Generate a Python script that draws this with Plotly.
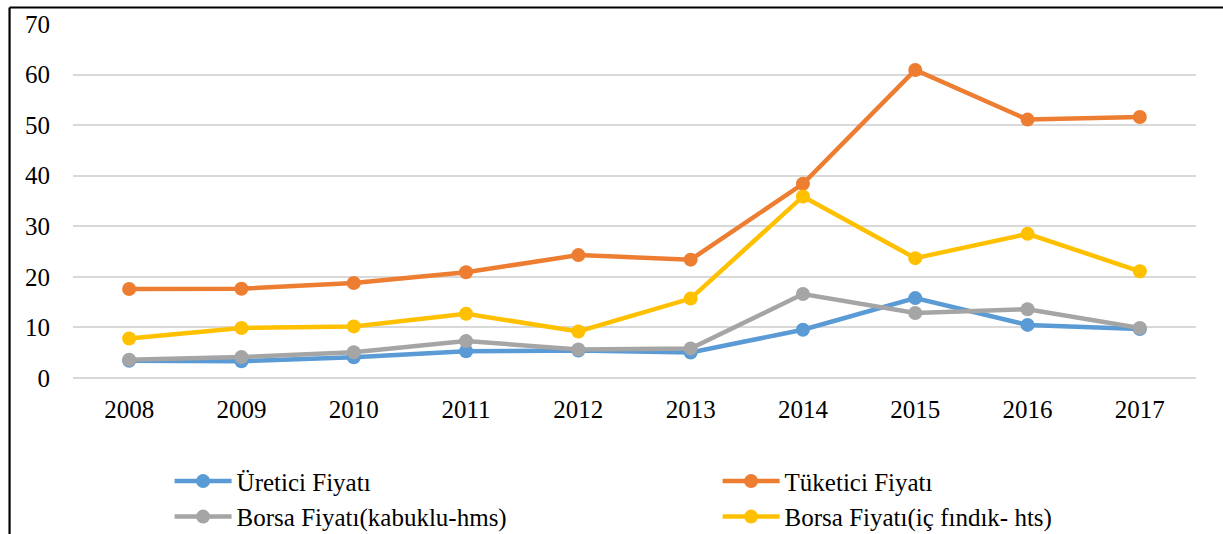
import plotly.graph_objects as go

years = ["2008", "2009", "2010", "2011", "2012", "2013", "2014", "2015", "2016", "2017"]
uretici = [3.4, 3.3, 4.1, 5.3, 5.45, 5.05, 9.55, 15.8, 10.5, 9.7]
tuketici = [17.6, 17.65, 18.8, 20.9, 24.3, 23.4, 38.4, 60.9, 51.1, 51.6]
borsa_kabuklu = [3.6, 4.15, 5.1, 7.3, 5.65, 5.85, 16.6, 12.85, 13.6, 9.9]
borsa_ic = [7.8, 9.9, 10.2, 12.7, 9.2, 15.7, 35.9, 23.7, 28.5, 21.1]

names = ["Üretici Fiyatı", "Tüketici Fiyatı", "Borsa Fiyatı(kabuklu-hms)", "Borsa Fiyatı(iç fındık- hts)"]
colors = ["#5B9BD5", "#ED7D31", "#A5A5A5", "#FFC000"]
series = [uretici, tuketici, borsa_kabuklu, borsa_ic]
legends = ["legend", "legend2", "legend", "legend2"]

font = "Liberation Serif, Times New Roman, serif"

fig = go.Figure()
for name, col, vals, lg in zip(names, colors, series, legends):
    fig.add_trace(go.Scatter(
        x=years, y=vals, name=name, mode="lines+markers",
        line=dict(color=col, width=4.5),
        marker=dict(color=col, size=14),
        legend=lg,
    ))

leg_common = dict(
    orientation="v", yanchor="top", xanchor="left",
    font=dict(family=font, size=25, color="black"),
    tracegroupgap=0, traceorder="normal", bgcolor="rgba(0,0,0,0)",
    itemwidth=57,
)

fig.update_layout(
    width=1223, height=534,
    margin=dict(l=73, r=27, t=24, b=156, autoexpand=False),
    paper_bgcolor="white", plot_bgcolor="white",
    font=dict(family=font, size=25, color="black"),
    showlegend=True,
    legend=dict(x=0.086, y=-0.227, **leg_common),
    legend2=dict(x=0.574, y=-0.227, **leg_common),
    xaxis=dict(
        type="category", range=[-0.5, 9.5], showgrid=False, showline=False,
        ticks="", ticklabelstandoff=14, tickfont=dict(family=font, size=25),
    ),
    yaxis=dict(
        range=[0, 70], dtick=10, showgrid=True, gridcolor="#D9D9D9", gridwidth=1.5,
        zeroline=True, zerolinecolor="#D9D9D9", zerolinewidth=1.5,
        showline=False, ticks="", ticklabelstandoff=22, tickfont=dict(family=font, size=25),
    ),
    shapes=[
        dict(type="line", xref="paper", yref="paper", x0=-0.0565, x1=1.05, y0=1.0466, y1=1.0466,
             line=dict(color="black", width=2.2)),
        dict(type="line", xref="paper", yref="paper", x0=-0.0565, x1=-0.0565, y0=1.0466, y1=-0.5,
             line=dict(color="black", width=2.2)),
    ],
)

fig.write_html("out.html", config={"displayModeBar": False},
               post_script="document.body.style.margin='0';")
